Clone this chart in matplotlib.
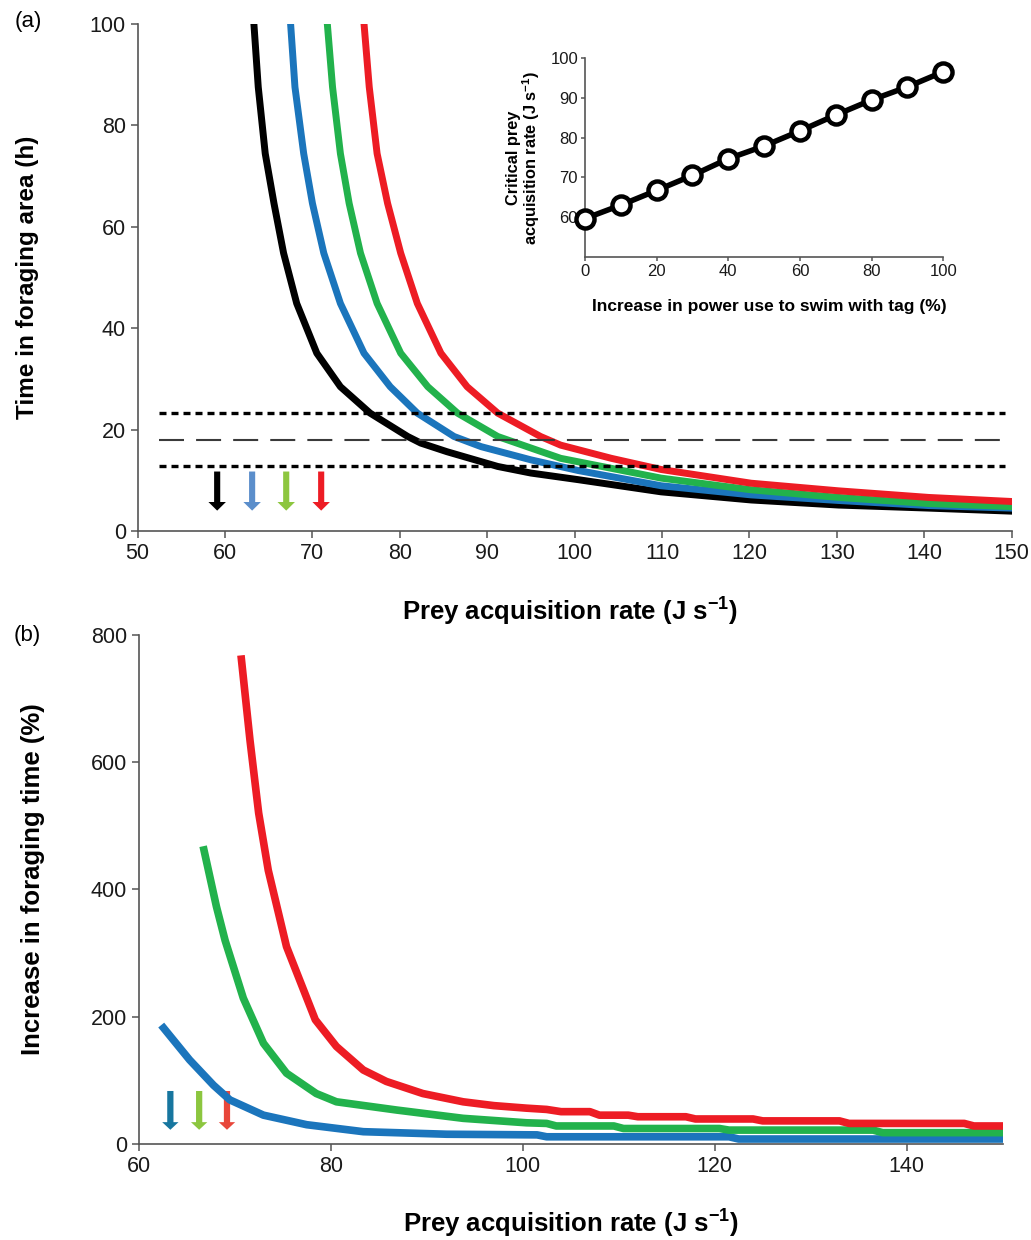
import numpy as np
import matplotlib
matplotlib.use("Agg")
import matplotlib.pyplot as plt

plt.rcParams['font.family'] = ['Liberation Sans', 'DejaVu Sans']
plt.rcParams['mathtext.default'] = 'regular'

# ---- panel (a): time in foraging area vs prey acquisition rate ----
black_x = [63.3, 63.8, 64.6, 65.6, 66.7, 68.2, 70.5, 73.2, 76.6, 80.9, 82.4, 85.4, 91.2, 95.0, 100.4, 109.9, 120.2, 130.2, 140.5, 150]
black_y = [100, 87.5, 74.4, 64.6, 54.8, 44.9, 35.1, 28.5, 23.3, 18.7, 17.4, 15.7, 12.8, 11.5, 10.2, 7.8, 6.2, 5.2, 4.6, 4.0]
blue_x = [67.5, 68.0, 69.0, 70.0, 71.3, 73.2, 75.9, 78.9, 82.0, 86.2, 89.3, 95.0, 100.4, 109.9, 120.2, 130.2, 140.5, 150]
blue_y = [100, 87.5, 74.4, 64.6, 54.8, 44.9, 35.1, 28.5, 23.3, 18.7, 16.7, 14.1, 12.0, 9.0, 7.2, 6.1, 5.1, 4.6]
green_x = [71.7, 72.3, 73.2, 74.2, 75.5, 77.4, 80.1, 83.2, 86.6, 91.2, 98.4, 109.9, 120.2, 130.2, 140.5, 150]
green_y = [100, 87.5, 74.4, 64.6, 54.8, 44.9, 35.1, 28.5, 23.3, 18.7, 14.4, 10.5, 8.2, 6.7, 5.5, 4.9]
red_x = [75.9, 76.5, 77.4, 78.6, 80.1, 82.0, 84.7, 87.7, 91.2, 96.1, 98.4, 104.2, 109.9, 120.2, 130.2, 140.5, 150]
red_y = [100, 87.5, 74.4, 64.6, 54.8, 44.9, 35.1, 28.5, 23.3, 18.7, 17.0, 14.4, 12.2, 9.5, 8.0, 6.7, 5.9]

# horizontal reference lines (h)
ref_upper = 23.3
ref_mid = 18.0
ref_lower = 12.8
ref_xrange = [52.4, 149.3]

# critical rates marked with arrows in (a)
arrow_a_x = [59.1, 63.1, 67.0, 71.0]
arrow_a_colors = ['#000000', '#5b8ecb', '#8dc63f', '#ed1c24']

# inset: critical prey acquisition rate vs power increase
inset_x = [0, 10, 20, 30, 40, 50, 60, 70, 80, 90, 100]
inset_y = [59.6, 63.0, 66.7, 70.5, 74.7, 77.9, 81.7, 85.7, 89.5, 92.8, 96.6]

# ---- panel (b): increase in foraging time (%) ----
b_red_x = [70.7, 71.6, 72.5, 73.5, 75.4, 78.4, 80.6, 83.4, 85.8, 89.6, 93.8, 97, 100.4, 102.5, 104, 107, 108, 111,
           112, 117, 118, 124, 125, 133, 134, 146, 147, 150]
b_red_y = [762, 634, 520, 430, 310, 195, 153, 116, 98, 79, 66, 60, 56, 54, 50.5, 50.5, 45, 45,
           42.5, 42.5, 39, 39, 36, 36, 32, 32, 28, 28]
b_green_x = [66.8, 68.1, 69.0, 70.9, 73.0, 75.4, 78.5, 80.6, 86.9, 93.8, 100.4, 102.5, 103.5, 109.5, 110.5, 120.5,
             121.5, 136.5, 137.5, 150]
b_green_y = [462, 373, 320, 229, 158, 111, 79, 66, 53, 40, 33, 32, 28, 28, 24, 24,
             21.5, 21.5, 17.5, 17.5]
b_blue_x = [62.6, 65.3, 67.8, 69.5, 73.0, 77.5, 83.4, 92.1, 101.5, 102.5, 121.5, 122.5, 150]
b_blue_y = [182, 132, 92, 69, 45, 30, 19, 15, 14, 11, 11, 7.5, 7.5]

arrow_b_x = [63.3, 66.3, 69.2]
arrow_b_colors = ['#17769f', '#8cc63f', '#e8463a']

line_colors = {'black': '#000000', 'blue': '#1b75bc', 'green': '#22b24c', 'red': '#ed1c24'}
spine_col = '#555555'


def style_axes(ax, ticksize=15.5):
    for s in ['top', 'right']:
        ax.spines[s].set_visible(False)
    for s in ['left', 'bottom']:
        ax.spines[s].set_color(spine_col)
        ax.spines[s].set_linewidth(1.2)
    ax.tick_params(direction='out', length=5, width=1.1, color=spine_col,
                   labelsize=ticksize, labelcolor='#1a1a1a')


fig = plt.figure(figsize=(10.31, 12.4), dpi=100)

# ---------------- panel (a) ----------------
ax1 = fig.add_axes([0.1335, 0.5714, 0.8477, 0.4096])
ax1.plot(black_x, black_y, color=line_colors['black'], lw=5)
ax1.plot(blue_x, blue_y, color=line_colors['blue'], lw=5)
ax1.plot(green_x, green_y, color=line_colors['green'], lw=5)
ax1.plot(red_x, red_y, color=line_colors['red'], lw=5)

ax1.plot(ref_xrange, [ref_upper, ref_upper], color='black', lw=2.4, ls=(0, (2.1, 1.5)))
ax1.plot(ref_xrange, [ref_mid, ref_mid], color='#3a3a3a', lw=1.5, ls=(0, (12, 5.8)))
ax1.plot(ref_xrange, [ref_lower, ref_lower], color='black', lw=2.4, ls=(0, (2.1, 1.5)))

for x, c in zip(arrow_a_x, arrow_a_colors):
    ax1.arrow(x, 11.8, 0, -7.7, width=0.7, head_width=2.0, head_length=1.7,
              length_includes_head=True, color=c, lw=0)

ax1.set_xlim(50, 150)
ax1.set_ylim(0, 100)
ax1.set_xticks(np.arange(50, 151, 10))
ax1.set_yticks(np.arange(0, 101, 20))
style_axes(ax1)
ax1.set_xlabel('Prey acquisition rate (J s$^{-1}$)', fontsize=18.5, fontweight='bold', va='center')
ax1.xaxis.set_label_coords(0.495, -0.158)
ax1.set_ylabel('Time in foraging area (h)', fontsize=17.5, fontweight='bold', va='center')
ax1.yaxis.set_label_coords(-0.126, 0.5)

# inset
axi = fig.add_axes([0.5674, 0.793, 0.3475, 0.16])
axi.plot(inset_x, inset_y, color='black', lw=4, marker='o', ms=13,
         mfc='white', mec='black', mew=3.2, zorder=3, clip_on=False)
axi.set_xlim(0, 100)
axi.set_ylim(50, 100)
axi.set_xticks(np.arange(0, 101, 20))
axi.set_yticks(np.arange(60, 101, 10))
style_axes(axi, ticksize=12)
axi.tick_params(length=3, pad=2)
axi.set_xlabel('Increase in power use to swim with tag (%)', fontsize=12.5, fontweight='bold', va='center')
axi.xaxis.set_label_coords(0.514, -0.252)
axi.set_ylabel('Critical prey\nacquisition rate (J s$^{-1}$)', fontsize=11.8, fontweight='bold',
               va='center', linespacing=1.0)
axi.yaxis.set_label_coords(-0.17, 0.5)

# ---------------- panel (b) ----------------
ax2 = fig.add_axes([0.1345, 0.0776, 0.838, 0.4103])
ax2.plot(b_blue_x, b_blue_y, color=line_colors['blue'], lw=5.5)
ax2.plot(b_green_x, b_green_y, color=line_colors['green'], lw=5.5)
ax2.plot(b_red_x, b_red_y, color=line_colors['red'], lw=5.5)

for x, c in zip(arrow_b_x, arrow_b_colors):
    ax2.arrow(x, 83, 0, -61, width=0.65, head_width=1.7, head_length=12,
              length_includes_head=True, color=c, lw=0)

ax2.set_xlim(60, 150)
ax2.set_ylim(0, 800)
ax2.set_xticks(np.arange(60, 141, 20))
ax2.set_yticks(np.arange(0, 801, 200))
style_axes(ax2)
ax2.set_xlabel('Prey acquisition rate (J s$^{-1}$)', fontsize=18.5, fontweight='bold', va='center')
ax2.xaxis.set_label_coords(0.5, -0.158)
ax2.set_ylabel('Increase in foraging time (%)', fontsize=18.5, fontweight='bold', va='center')
ax2.yaxis.set_label_coords(-0.122, 0.52)

fig.text(28 / 1031, 1 - 22 / 1240, '(a)', fontsize=16, ha='center', va='center')
fig.text(27 / 1031, 1 - 636 / 1240, '(b)', fontsize=16, ha='center', va='center')

fig.savefig('out.png', dpi=100)
